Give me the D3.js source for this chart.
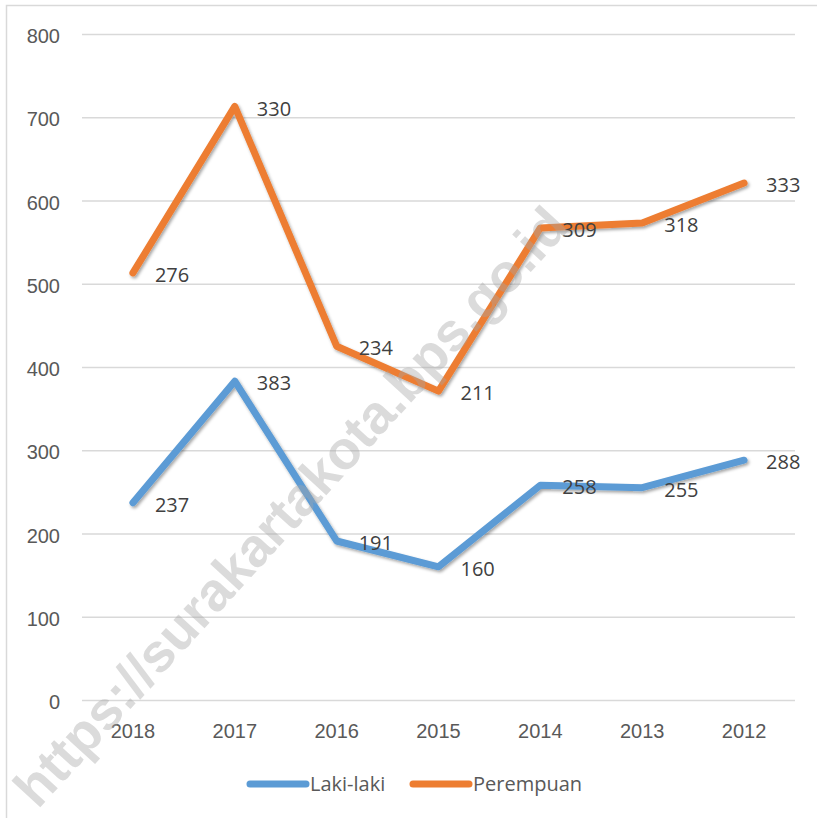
<!DOCTYPE html>
<html lang="id">
  <head>
    <meta charset="UTF-8" />
    <title>Laki-laki dan Perempuan 2012-2018</title>
    <script src="https://d3js.org/d3.v7.min.js"></script>
  </head>
  <style>
    body {
      margin: 0;
      background: #fff;
    }

    svg {
      display: block;
      font-family: "Open Sans", sans-serif;
    }

    .tick text {
      font-size: 20px;
      fill: #595959;
    }

    .grid .tick line {
      stroke: #d9d9d9;
      stroke-width: 1.5px;
    }

    .label {
      font-size: 20px;
      fill: #404040;
    }

    .legend text {
      font-size: 20px;
      fill: #595959;
    }
  </style>
  <body>
    <svg width="817" height="818"></svg>
    <script>
      var years = ["2018", "2017", "2016", "2015", "2014", "2013", "2012"];
      var lakiLaki = [237, 383, 191, 160, 258, 255, 288];
      var perempuan = [276, 330, 234, 211, 309, 318, 333];
      var seriesNames = ["Laki-laki", "Perempuan"];
      var seriesColors = ["#5b9bd5", "#ed7d31"];

      var rows = years.map(function (yr, i) {
        return { year: yr, "Laki-laki": lakiLaki[i], Perempuan: perempuan[i] };
      });

      var svg = d3.select("svg");

      var defs = svg.append("defs");
      var shadow = defs.append("filter").attr("id", "shadow")
        .attr("x", "-10%").attr("y", "-10%")
        .attr("width", "120%").attr("height", "120%");
      shadow.append("feDropShadow")
        .attr("dx", 1.5).attr("dy", 2)
        .attr("stdDeviation", 1.5)
        .attr("flood-color", "#000")
        .attr("flood-opacity", 0.35);

      // outer chart frame (only top and left show in the crop)
      svg.append("rect")
        .attr("x", 6.5).attr("y", 5.5)
        .attr("width", 900).attr("height", 900)
        .attr("fill", "none")
        .attr("stroke", "#d9d9d9")
        .attr("stroke-width", 1.5);

      var x = d3.scaleBand().domain(years).range([82, 795]);
      var y = d3.scaleLinear().domain([0, 800]).range([700, 34]);
      var cx = function (yr) { return x(yr) + x.bandwidth() / 2; };

      svg.append("g")
        .attr("class", "grid")
        .attr("transform", "translate(82,0)")
        .call(d3.axisLeft(y).ticks(8).tickSize(-713).tickPadding(22))
        .call(function (g) { g.select(".domain").remove(); })
        .selectAll("text")
        .attr("dy", "0.38em")
        .attr("y", 1);

      svg.append("g")
        .attr("transform", "translate(0,700)")
        .call(d3.axisBottom(x).tickSize(0).tickPadding(24))
        .call(function (g) { g.select(".domain").remove(); });

      var stacked = d3.stack().keys(seriesNames)(rows);

      var line = d3.line()
        .x(function (d) { return cx(d.data.year); })
        .y(function (d) { return y(d[1]); });

      svg.append("g")
        .selectAll("path")
        .data(stacked)
        .join("path")
        .attr("d", line)
        .attr("fill", "none")
        .attr("stroke", function (d, i) { return seriesColors[i]; })
        .attr("stroke-width", 7)
        .attr("stroke-linejoin", "round")
        .attr("stroke-linecap", "round")
        .attr("filter", "url(#shadow)");

      // data labels show each series' own value, right of the point
      stacked.forEach(function (s) {
        svg.append("g")
          .selectAll("text")
          .data(s)
          .join("text")
          .attr("class", "label")
          .attr("x", function (d) { return cx(d.data.year) + 22; })
          .attr("y", function (d) { return y(d[1]) + 2; })
          .attr("dy", "0.36em")
          .text(function (d) { return d.data[s.key]; });
      });

      // legend
      var legendX = [250, 413];
      var legend = svg.append("g").attr("class", "legend");
      seriesNames.forEach(function (name, i) {
        legend.append("line")
          .attr("x1", legendX[i]).attr("x2", legendX[i] + 56)
          .attr("y1", 784).attr("y2", 784)
          .attr("stroke", seriesColors[i])
          .attr("stroke-width", 7)
          .attr("stroke-linecap", "round");
        legend.append("text")
          .attr("x", legendX[i] + 60)
          .attr("y", 784)
          .attr("dy", "0.36em")
          .text(name);
      });

      // watermark
      svg.append("text")
        .attr("transform", "translate(290,506) rotate(-47.5)")
        .attr("text-anchor", "middle")
        .attr("dy", "0.36em")
        .style("font-family", "'Liberation Sans', Arial, sans-serif")
        .style("font-weight", "bold")
        .style("font-size", "54px")
        .attr("fill", "#a6a6a6")
        .attr("fill-opacity", 0.4)
        .text("https://surakartakota.bps.go.id");
    </script>
  </body>
</html>
